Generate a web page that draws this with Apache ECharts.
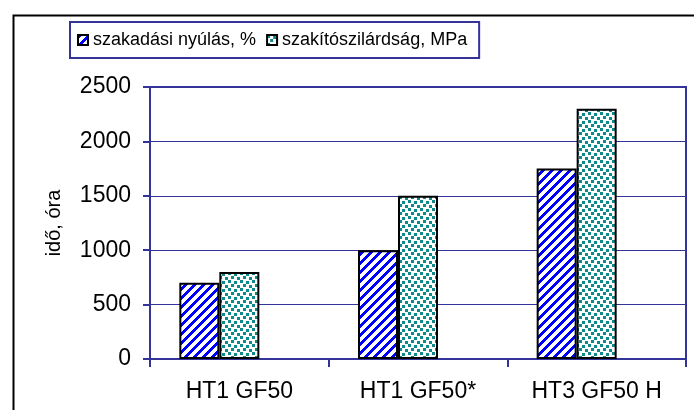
<!DOCTYPE html>
<html>
<head>
<meta charset="utf-8">
<script src="https://cdn.jsdelivr.net/npm/echarts@6/dist/echarts.min.js"></script>
<style>
html,body{margin:0;padding:0;background:#fff;}
#chart{width:694px;height:410px;}
</style>
</head>
<body>
<div id="chart"></div>
<script>
// ---- data ----
var categories = ['HT1 GF50', 'HT1 GF50*', 'HT3 GF50 H'];
var elongation = [700, 1000, 1750];      // szakadási nyúlás, %
var strength = [800, 1500, 2300];        // szakítószilárdság, MPa
var placeholder = ['-', '-', '-'];       // empty third slot (as in original)
var seriesNames = ['szakadási nyúlás, %', 'szakítószilárdság, MPa'];
var yTicks = {min: 0, max: 2500, interval: 500};
var yName = 'idő, óra';

// ---- patterns ----
function stripeTile() {
  var p = 9, c = document.createElement('canvas');
  c.width = p; c.height = p;
  var ctx = c.getContext('2d');
  var img = ctx.createImageData(p, p);
  for (var y = 0; y < p; y++) for (var x = 0; x < p; x++) {
    var i = (y * p + x) * 4;
    var blue = ((x + y) % p) < 4;
    img.data[i] = blue ? 0 : 255;
    img.data[i + 1] = blue ? 0 : 255;
    img.data[i + 2] = 255;
    img.data[i + 3] = 255;
  }
  ctx.putImageData(img, 0, 0);
  return c;
}
function dotTile() {
  var c = document.createElement('canvas');
  c.width = 12; c.height = 8;
  var ctx = c.getContext('2d');
  ctx.fillStyle = '#ffffff'; ctx.fillRect(0, 0, 12, 8);
  ctx.fillStyle = '#0f8a8a';
  var pts = [[0,0],[6,1],[3,4],[9,5]];
  pts.forEach(function (q) { ctx.fillRect(q[0], q[1], 3, 3); });
  return c;
}

var navy = '#333399';
var font = 'Liberation Sans, Arial, sans-serif';
var chart = echarts.init(document.getElementById('chart'), null, {renderer: 'canvas'});

chart.setOption({
  animation: false,
  backgroundColor: '#ffffff',
  textStyle: {fontFamily: font, color: '#000'},
  graphic: [{
    type: 'rect', left: 11, top: 13, silent: true,
    shape: {x: 0, y: 0, width: 720, height: 440},
    style: {fill: 'none', stroke: '#000', lineWidth: 2}
  }],
  legend: {
    data: seriesNames,
    left: 70, top: 22,
    padding: [9, 12, 9, 7],
    borderColor: navy, borderWidth: 2,
    itemWidth: 10, itemHeight: 10, itemGap: 10,
    icon: 'rect',
    textStyle: {fontSize: 18, fontFamily: font, color: '#000'}
  },
  grid: {
    left: 150, right: 8, top: 87, bottom: 51,
    show: true, borderColor: navy, borderWidth: 2, backgroundColor: 'transparent'
  },
  xAxis: {
    type: 'category', data: categories,
    axisLine: {lineStyle: {color: navy, width: 2}},
    axisTick: {show: true, length: 8, lineStyle: {color: navy, width: 2}},
    axisLabel: {fontSize: 23, color: '#000', margin: 21, fontFamily: font}
  },
  yAxis: {
    type: 'value', min: yTicks.min, max: yTicks.max, interval: yTicks.interval,
    name: yName, nameLocation: 'middle', nameGap: 86,
    nameTextStyle: {fontSize: 20, color: '#000', fontFamily: font},
    axisLine: {show: true, lineStyle: {color: navy, width: 2}},
    axisTick: {show: true, length: 7, lineStyle: {color: navy, width: 2}},
    axisLabel: {fontSize: 23, color: '#000', margin: 19, fontFamily: font,
      formatter: function (v) { return String(v); }},
    splitLine: {show: true, lineStyle: {color: navy, width: 1}}
  },
  series: [{
    name: seriesNames[0], type: 'bar', data: elongation,
    barWidth: 40, barGap: '0%',
    itemStyle: {color: {image: stripeTile(), repeat: 'repeat'}, borderColor: '#000', borderWidth: 2}
  }, {
    name: seriesNames[1], type: 'bar', data: strength,
    barWidth: 40, barGap: '0%',
    itemStyle: {color: {image: dotTile(), repeat: 'repeat'}, borderColor: '#000', borderWidth: 2}
  }, {
    name: 'placeholder', type: 'bar', data: placeholder,
    barWidth: 40, barGap: '0%', silent: true,
    itemStyle: {color: 'transparent'}
  }]
});
</script>
</body>
</html>
